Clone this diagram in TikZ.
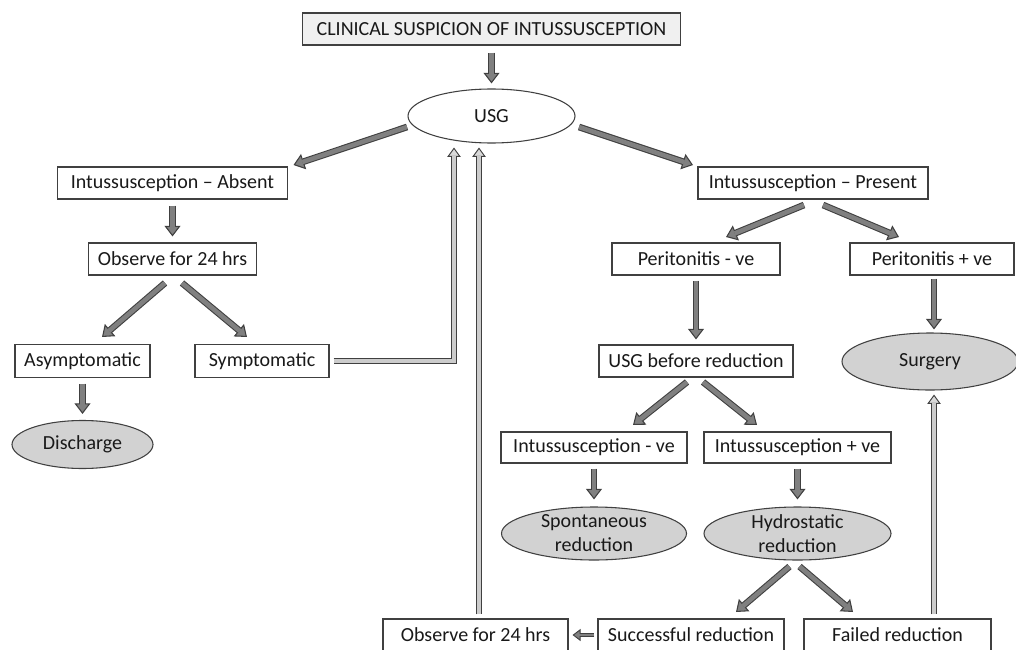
\documentclass[tikz,border=0pt]{standalone}
\usepackage{fontspec}
\setmainfont{Carlito}
\usetikzlibrary{arrows.meta,shapes.geometric,calc}
\begin{document}
\begin{tikzpicture}[x=0.75pt,y=-0.75pt,
  every node/.style={font=\fontsize{15}{18}\selectfont, text=black!90, inner sep=0pt, align=center},
  box/.style={draw=black!75, line width=0.8pt, fill=white, rectangle, minimum height=24pt},
  topbox/.style={box, fill=gray!12},
  oval/.style={draw=black!75, line width=0.8pt, ellipse, fill=white},
  goval/.style={oval, fill=gray!35},
  blk/.style={draw=black!75, line width=5pt,
    -{Triangle[width=12pt,length=8pt,fill=gray,line width=0.8pt]},
    postaction={draw=gray, line width=3.4pt, -, shorten >=7pt}},
  blksmall/.style={draw=black!75, line width=3.6pt,
    -{Triangle[width=9pt,length=6pt,fill=gray,line width=0.7pt]},
    postaction={draw=gray, line width=2.2pt, -, shorten >=5pt}},
  hol/.style={draw=black!75, line width=4.6pt, line join=miter,
    -{Triangle[width=10pt,length=7pt,fill=gray!30,line width=0.7pt]},
    postaction={draw=gray!40, line width=2.8pt, -, shorten >=6pt}},
]
\useasboundingbox (0,0) rectangle (1016,649);

% nodes
\node[topbox, minimum width=283.5pt] (top) at (491.5,29) {CLINICAL SUSPICION OF INTUSSUSCEPTION};
\node[oval, minimum width=125.25pt, minimum height=40.5pt] (usg) at (491.5,116) {USG};
\node[box, minimum width=172.5pt] (absent) at (172.5,183) {Intussusception – Absent};
\node[box, minimum width=172.5pt] (present) at (813,183) {Intussusception – Present};
\node[box, minimum width=126pt] (obsL) at (172.5,259) {Observe for 24 hrs};
\node[box, minimum width=126pt] (pneg) at (696,259) {Peritonitis - ve};
\node[box, minimum width=123pt] (ppos) at (932,259) {Peritonitis + ve};
\node[box, minimum width=101.25pt, minimum height=24.75pt] (asym) at (82.5,361) {Asymptomatic};
\node[box, minimum width=100.5pt, minimum height=24.75pt] (sym) at (262,361) {Symptomatic};
\node[box, minimum width=145.5pt] (usgb) at (696,361) {USG before reduction};
\node[goval, minimum width=132pt, minimum height=42.75pt] (surg) at (930,361.5) {Surgery};
\node[goval, minimum width=105.75pt, minimum height=36pt] (disch) at (82.5,444.5) {Discharge};
\node[box, minimum width=139.5pt, minimum height=23.25pt] (ineg) at (594,447.5) {Intussusception - ve};
\node[box, minimum width=140.25pt, minimum height=23.25pt] (ipos) at (797.5,447.5) {Intussusception + ve};
\node[goval, inner ysep=-6pt, minimum width=138.75pt, minimum height=39.75pt] (spont) at (594,533.5) {Spontaneous\\reduction};
\node[goval, inner ysep=-6pt, minimum width=140.25pt, minimum height=39.75pt] (hydro) at (797.5,533.5) {Hydrostatic\\reduction};
\node[box, minimum width=138.75pt] (obsB) at (475.5,635) {Observe for 24 hrs};
\node[box, minimum width=139.5pt] (succ) at (691,635) {Successful reduction};
\node[box, minimum width=140.25pt] (fail) at (897.5,635) {Failed reduction};

% connectors
\draw[blk] ($(top.south)+(0,7)$) -- ($(usg.north)+(0,-5)$);
\draw[blk] ($(usg.center)+(-84.5,11)$) -- ($(absent.center)+(121,-18)$);
\draw[blk] ($(usg.center)+(87.5,11)$) -- ($(present.center)+(-120,-18)$);
\draw[blk] ($(absent.south)+(0,6)$) -- ($(obsL.north)+(0,-6)$);
\draw[blk] ($(obsL.center)+(-7.5,24)$) -- ($(asym.center)+(19.5,-24)$);
\draw[blk] ($(obsL.center)+(9.5,24)$) -- ($(sym.center)+(-15,-24)$);
\draw[blk] ($(asym.south)+(0,5.5)$) -- ($(disch.north)+(0,-6)$);
\draw[hol] ($(sym.east)+(4,0)$) -| ($(usg.south)+(-37.5,4)$);
\draw[hol] ($(obsB.north)+(3.5,-4)$) -- ($(usg.south)+(-12.5,4)$);
\draw[blk] ($(present.center)+(-9,22)$) -- ($(pneg.center)+(30,-22)$);
\draw[blk] ($(present.center)+(10,22)$) -- ($(ppos.center)+(-33,-22)$);
\draw[blk] ($(pneg.south)+(0,5)$) -- ($(usgb.north)+(0,-5)$);
\draw[blk] ($(ppos.south)+(2,3)$) -- ($(surg.north)+(4,-3)$);
\draw[blk] ($(usgb.center)+(-9,21)$) -- ($(ineg.center)+(39,-22.5)$);
\draw[blk] ($(usgb.center)+(7,21)$) -- ($(ipos.center)+(-40.5,-22.5)$);
\draw[blk] ($(ineg.south)+(0,5)$) -- ($(spont.north)+(0,-7)$);
\draw[blk] ($(ipos.south)+(0,5)$) -- ($(hydro.north)+(0,-7)$);
\draw[blk] ($(hydro.center)+(-8,33)$) -- ($(succ.center)+(45,-23)$);
\draw[blk] ($(hydro.center)+(2,33)$) -- ($(fail.center)+(-44.5,-23)$);
\draw[hol] ($(fail.north)+(36.5,-4)$) -- ($(surg.south)+(4,4)$);
\draw[blksmall] ($(succ.west)+(-3,0)$) -- ($(obsB.east)+(4,0)$);
\end{tikzpicture}
\end{document}
